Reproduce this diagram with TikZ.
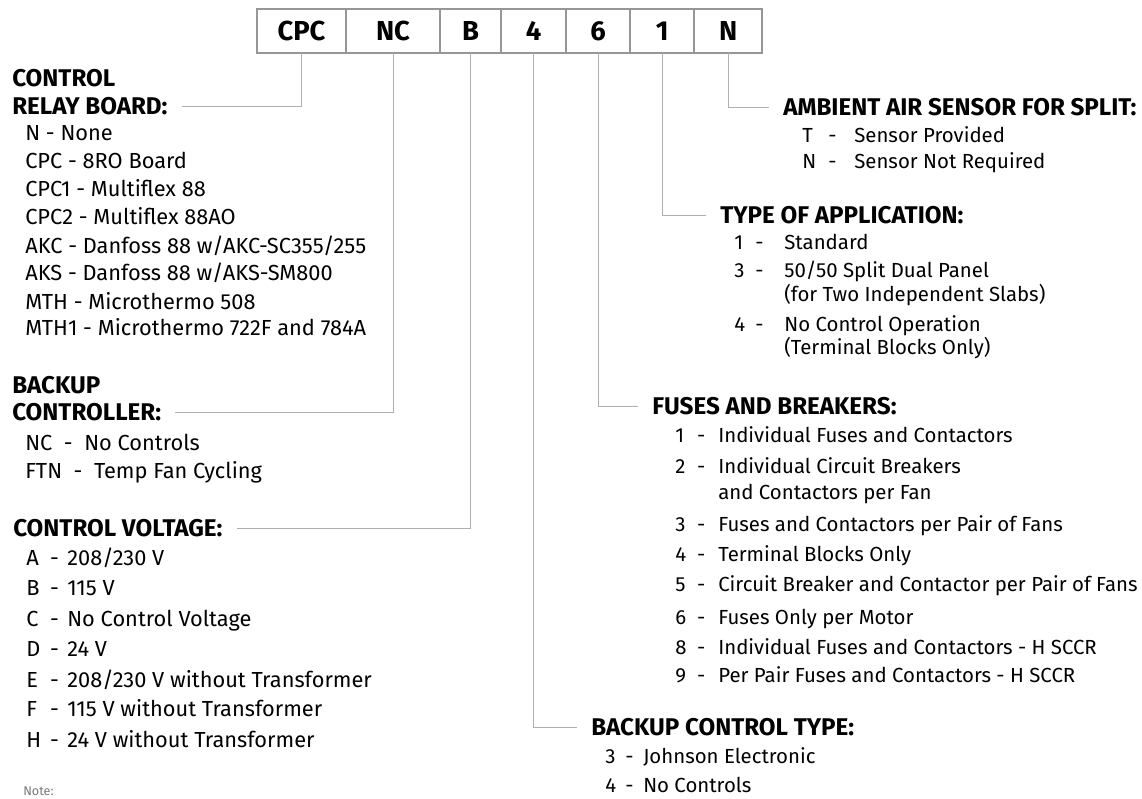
\documentclass[tikz,border=0pt]{standalone}
\usepackage{fontspec}
\setmainfont{Fira Sans}
\usetikzlibrary{positioning}

\definecolor{boxgray}{RGB}{150,150,150}
\definecolor{leadgray}{RGB}{175,175,175}
\definecolor{notegray}{RGB}{120,120,120}

% code column, dash column, then the text
\newcommand{\opt}[4]{\makebox[#1][l]{#3}\makebox[#2][l]{-}#4}

\begin{document}
\begin{tikzpicture}[x=0.025cm, y=-0.025cm,
    cell/.style={draw=boxgray, line width=1.2pt, minimum height=1.1cm, inner sep=0pt, outer sep=0pt,
      font=\fontsize{19.5}{22}\selectfont\bfseries},
    head/.style={anchor=west, inner sep=0pt, text height=11.85pt, text depth=0pt,
      font=\fontsize{17.2}{20}\selectfont\bfseries},
    item/.style={anchor=west, inner sep=0pt, text height=10.7pt, text depth=0pt,
      font=\fontsize{15.5}{18}\selectfont},
    ritem/.style={item, text height=10pt, font=\fontsize{14.5}{17}\selectfont},
    leader/.style={draw=leadgray, line width=0.7pt}]
  \useasboundingbox (0,0) rectangle (1142,798);

  % model number boxes
  \node[cell, anchor=west, minimum width=2.225cm] (cpc) at (257,31) {CPC};
  \node[cell, minimum width=2.35cm, right=0pt of cpc] (nc) {NC};
  \node[cell, minimum width=1.525cm, right=0pt of nc] (b) {B};
  \node[cell, minimum width=1.625cm, right=0pt of b] (c4) {4};
  \node[cell, minimum width=1.6cm, right=0pt of c4] (c6) {6};
  \node[cell, minimum width=1.6cm, right=0pt of c6] (c1) {1};
  \node[cell, minimum width=1.7cm, right=0pt of c1] (cN) {N};

  % control relay board
  \node[head] (ctl) at (12,78) {CONTROL};
  \node[head] (relay) at (12,106) {RELAY BOARD:};
  \foreach \y/\t [count=\i] in {133/N - None, 161/CPC - 8RO Board, 189/CPC1 - Multiflex 88,
      217/CPC2 - Multiflex 88AO, 246/{AKC - Danfoss 88 w/AKC-SC355/255},
      273/{AKS - Danfoss 88 w/AKS-SM800}, 302/MTH - Microthermo 508,
      328/MTH1 - Microthermo 722F and 784A}
    \node[item] (rb\i) at (25,\y) {\t};

  % backup controller
  \node[head] (bkp) at (12,385) {BACKUP};
  \node[head] (ctlr) at (12,412) {CONTROLLER:};
  \node[item] (bcNC) at (25,443) {NC~~-~~No Controls};
  \node[item] (bcFTN) at (25,471) {FTN~~-~~Temp Fan Cycling};

  % control voltage
  \node[head] (volt) at (13,528) {CONTROL VOLTAGE:};
  \foreach \y/\c/\t in {558/A/{208/230 V}, 588/B/115 V, 619/C/No Control Voltage, 649/D/24 V,
      680/E/{208/230 V without Transformer}, 709/F/115 V without Transformer,
      740/H/24 V without Transformer}
    \node[item] (v\c) at (26,\y) {\opt{17pt}{12.2pt}{\c}{\t}};

  \node[item, text height=6pt, font=\fontsize{9}{10}\selectfont, text=notegray] (note) at (23,791) {Note:};

  % ambient air sensor
  \node[head] (amb) at (783,107) {AMBIENT AIR SENSOR FOR SPLIT:};
  \node[ritem] (ambT) at (802,135) {\opt{18.5pt}{18.5pt}{T}{Sensor Provided}};
  \node[ritem] (ambN) at (802,161) {\opt{18.5pt}{18.5pt}{N}{Sensor Not Required}};

  % type of application
  \node[head] (app) at (720,215) {TYPE OF APPLICATION:};
  \node[ritem] (app1) at (734,242) {\opt{15pt}{20.6pt}{1}{Standard}};
  \node[ritem] (app3) at (734,270) {\opt{15pt}{20.6pt}{3}{50/50 Split Dual Panel}};
  \node[ritem] (app3b) at (784,294) {(for Two Independent Slabs)};
  \node[ritem] (app4) at (734,324) {\opt{15pt}{20.6pt}{4}{No Control Operation}};
  \node[ritem] (app4b) at (784,347) {(Terminal Blocks Only)};

  % fuses and breakers
  \node[head] (fuse) at (652,406) {FUSES AND BREAKERS:};
  \foreach \y/\c/\t in {435/1/Individual Fuses and Contactors, 466/2/Individual Circuit Breakers,
      524/3/Fuses and Contactors per Pair of Fans, 554/4/Terminal Blocks Only,
      584/5/Circuit Breaker and Contactor per Pair of Fans, 617/6/Fuses Only per Motor,
      647/8/Individual Fuses and Contactors - H SCCR, 675/9/Per Pair Fuses and Contactors - H SCCR}
    \node[ritem] (fb\c) at (675,\y) {\opt{15.6pt}{15pt}{\c}{\t}};
  \node[ritem] (fb2b) at (718,492) {and Contactors per Fan};

  % backup control type
  \node[head] (bct) at (591,727) {BACKUP CONTROL TYPE:};
  \node[ritem] (bct3) at (605,756) {\opt{14.2pt}{12.8pt}{3}{Johnson Electronic}};
  \node[ritem] (bct4) at (605,785) {\opt{14.2pt}{12.8pt}{4}{No Controls}};

  % leaders
  \draw[leader] (cpc.south) |- ([xshift=10pt]relay.east);
  \draw[leader] (nc.south) |- ([xshift=10pt]ctlr.east);
  \draw[leader] (b.south) |- ([xshift=10pt]volt.east);
  \draw[leader] (c4.south) |- ([xshift=-10pt]bct.west);
  \draw[leader] (c6.south) |- ([xshift=-10pt]fuse.west);
  \draw[leader] (c1.south) |- ([xshift=-10pt]app.west);
  \draw[leader] (cN.south) |- ([xshift=-10pt]amb.west);
\end{tikzpicture}
\end{document}
